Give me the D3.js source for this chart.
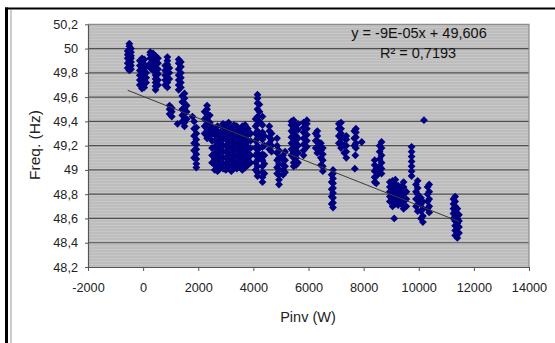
<!DOCTYPE html>
<html>
<head>
<meta charset="utf-8">
<script src="https://cdn.jsdelivr.net/npm/d3@7"></script>
<style>
  html, body { margin: 0; padding: 0; background: #ffffff; }
  svg { display: block; font-family: "Liberation Sans", Arial, sans-serif; }
</style>
</head>
<body>
<svg id="chart" width="555" height="343"></svg>
<script>
// Inverter power (W) for each measurement column; freqHz[i] holds the grid
// frequencies (Hz) logged at pinvW[i].
const pinvW = [
  -560, -500, -440, -120, -40, 40, 110, 260, 360, 450, 540,
  800, 880, 950, 960, 1040, 1250, 1290, 1370, 1420, 1500, 1580,
  1790, 1850, 1930, 2230, 2320, 2420,
  2500, 2600, 2700, 2800, 2900, 3000, 3100, 3200, 3300, 3400, 3500, 3600, 3700, 3800, 3900,
  4080, 4150, 4220, 4330, 4400, 4580, 4660, 4860, 4930, 5080, 5150,
  5380, 5460, 5550, 5620, 5820, 5940, 6260, 6320, 6450, 6520, 6840, 6890,
  7100, 7180, 7300, 7370, 7660, 7720, 7700, 7680, 7930,
  8400, 8460, 8580, 8650,
  8950, 9050, 9150, 9250, 9350, 9450, 9550, 9110,
  9740, 9900, 9960, 10080, 10150, 10320, 10380, 10190,
  11260, 11320, 11400, 11460
];
const freqHz = [
  [49.84, 49.88, 49.92, 49.95, 49.98],
  [49.82, 49.85, 49.87, 49.90, 49.93, 49.96, 49.99, 50.02, 50.04],
  [49.83, 49.86, 49.89, 49.92, 49.94, 49.97, 50.00],
  [49.70, 49.74, 49.78, 49.82, 49.86, 49.90],
  [49.67, 49.69, 49.72, 49.75, 49.78, 49.80, 49.83, 49.86, 49.89, 49.92],
  [49.68, 49.71, 49.74, 49.77, 49.81, 49.84, 49.87, 49.91],
  [49.72, 49.76, 49.80, 49.85],
  [49.84, 49.88, 49.92, 49.95, 49.97],
  [49.82, 49.85, 49.89, 49.93, 49.96],
  [49.66, 49.69, 49.72, 49.75, 49.78, 49.81, 49.84, 49.87, 49.90, 49.94],
  [49.70, 49.74, 49.79, 49.83, 49.88, 49.92],
  [49.70, 49.74, 49.78, 49.82, 49.86],
  [49.68, 49.72, 49.76, 49.80, 49.83, 49.87, 49.90, 49.93],
  [49.75, 49.80, 49.84],
  [49.46, 49.50, 49.53],
  [49.44, 49.48, 49.51],
  [49.38],
  [49.66, 49.70, 49.74, 49.78, 49.83, 49.88, 49.91],
  [49.68, 49.72, 49.76, 49.80, 49.85, 49.89],
  [49.40, 49.45, 49.50, 49.56, 49.61],
  [49.36, 49.39, 49.43, 49.47, 49.51, 49.55, 49.59, 49.63],
  [49.42, 49.48, 49.53],
  [49.44],
  [49.10, 49.16, 49.22, 49.28, 49.34, 49.40],
  [49.02, 49.05, 49.09, 49.13, 49.17, 49.21, 49.25, 49.30, 49.35],
  [49.30, 49.36, 49.42, 49.48],
  [49.26, 49.30, 49.34, 49.38, 49.42, 49.46, 49.50, 49.53],
  [49.28, 49.33, 49.39, 49.45],
  [49.06, 49.12, 49.18, 49.24, 49.30, 49.35],
  [49.00, 49.04, 49.09, 49.14, 49.19, 49.24, 49.29, 49.33],
  [48.99, 49.03, 49.08, 49.13, 49.18, 49.23, 49.28, 49.32, 49.36],
  [49.02, 49.06, 49.11, 49.16, 49.21, 49.26, 49.31],
  [49.01, 49.05, 49.10, 49.15, 49.20, 49.25, 49.30, 49.35, 49.38],
  [49.00, 49.05, 49.10, 49.15, 49.20, 49.26, 49.32, 49.37],
  [49.03, 49.08, 49.13, 49.18, 49.23, 49.28, 49.33, 49.39],
  [48.99, 49.04, 49.09, 49.14, 49.19, 49.24, 49.29, 49.35],
  [49.02, 49.07, 49.12, 49.17, 49.22, 49.27, 49.32, 49.37],
  [49.01, 49.06, 49.11, 49.16, 49.21, 49.26, 49.31, 49.36],
  [49.03, 49.08, 49.13, 49.18, 49.23, 49.28, 49.33],
  [49.00, 49.05, 49.10, 49.15, 49.20, 49.25, 49.30, 49.36],
  [49.02, 49.07, 49.12, 49.17, 49.22, 49.27, 49.33, 49.37],
  [49.04, 49.09, 49.14, 49.19, 49.24, 49.29, 49.34],
  [49.06, 49.12, 49.18, 49.24, 49.30],
  [49.00, 49.06, 49.12, 49.18, 49.24, 49.30, 49.36, 49.42],
  [48.95, 48.98, 49.03, 49.08, 49.14, 49.20, 49.26, 49.32, 49.38, 49.44, 49.50, 49.55, 49.59, 49.62],
  [49.10, 49.18, 49.28, 49.40, 49.48, 49.54],
  [48.90, 48.94, 48.98, 49.03, 49.08, 49.13, 49.19, 49.25, 49.31, 49.37, 49.44],
  [48.97, 49.05, 49.12, 49.20, 49.28],
  [49.17, 49.22, 49.27, 49.32, 49.36],
  [49.15, 49.20, 49.25, 49.30],
  [48.97, 49.02, 49.08, 49.14, 49.20, 49.26],
  [48.88, 48.92, 48.96, 49.00, 49.05, 49.10, 49.16],
  [48.96, 49.00, 49.04, 49.08, 49.12],
  [48.98, 49.03, 49.08, 49.15],
  [49.12, 49.17, 49.22, 49.27, 49.32, 49.37, 49.40],
  [49.03, 49.06, 49.10, 49.14, 49.18, 49.22, 49.26, 49.30, 49.34, 49.38, 49.41],
  [49.04, 49.10, 49.16, 49.22, 49.28, 49.34],
  [49.06, 49.14, 49.20, 49.26, 49.33, 49.38],
  [49.12, 49.16, 49.21, 49.26, 49.31, 49.35, 49.39],
  [49.19, 49.24, 49.29, 49.34, 49.38, 49.41],
  [49.18, 49.24, 49.30],
  [49.14, 49.19, 49.24, 49.28, 49.32],
  [49.04, 49.10, 49.16, 49.22],
  [48.99, 49.03, 49.08, 49.13, 49.18],
  [48.72, 48.78, 48.84, 48.90, 48.96],
  [48.69, 48.73, 48.77, 48.81, 48.85, 48.89, 48.93, 48.97, 49.00],
  [49.22, 49.28, 49.34, 49.38],
  [49.18, 49.22, 49.26, 49.30, 49.34, 49.39],
  [49.14, 49.20, 49.26],
  [49.10, 49.15, 49.20, 49.25, 49.28],
  [49.20, 49.26, 49.32],
  [49.18, 49.22, 49.27, 49.31, 49.34],
  [49.12],
  [49.01],
  [49.23],
  [48.90, 48.94, 48.99, 49.04, 49.08],
  [48.89, 48.95, 49.01],
  [48.98, 49.03, 49.09, 49.15, 49.20],
  [48.97, 49.01, 49.06, 49.12, 49.18, 49.23],
  [48.74, 48.78, 48.82, 48.86, 48.90],
  [48.70, 48.74, 48.78, 48.82, 48.86, 48.91],
  [48.72, 48.76, 48.80, 48.84, 48.88, 48.92],
  [48.71, 48.75, 48.79, 48.83, 48.87],
  [48.72, 48.77, 48.82, 48.86],
  [48.68, 48.74, 48.80, 48.86, 48.90],
  [48.70, 48.76, 48.82],
  [48.60],
  [48.95, 48.99, 49.03, 49.07, 49.11, 49.15, 49.19],
  [48.70, 48.76, 48.82, 48.88],
  [48.66, 48.71, 48.75, 48.80, 48.85, 48.91],
  [48.60, 48.66, 48.72, 48.77],
  [48.57, 48.62, 48.68, 48.74],
  [48.68, 48.74, 48.80, 48.86],
  [48.65, 48.70, 48.76, 48.82, 48.88],
  [49.41],
  [48.60, 48.64, 48.68, 48.72, 48.76],
  [48.46, 48.50, 48.54, 48.58, 48.62, 48.66, 48.70, 48.74, 48.78],
  [48.44, 48.48, 48.52, 48.56, 48.60, 48.64, 48.68],
  [48.48, 48.53, 48.58, 48.63]
];

// Axis ticks
const xTickValues = [-2000, 0, 2000, 4000, 6000, 8000, 10000, 12000, 14000];
const yTickValues = [48.2, 48.4, 48.6, 48.8, 49, 49.2, 49.4, 49.6, 49.8, 50, 50.2];

// Linear trend y = a·x + b
const trendSlope = -9e-5;
const trendIntercept = 49.606;
const trendLabel = "y = -9E-05x + 49,606";
const r2Label = "R\u00B2 = 0,7193";

const xTitle = "Pinv (W)";
const yTitle = "Freq. (Hz)";

const points = pinvW.flatMap((p, i) => freqHz[i].map(f => ({ p, f })));

const svg = d3.select("#chart");

// Outer frame
svg.append("rect").attr("x", 0).attr("y", 0).attr("width", 555).attr("height", 343).attr("fill", "#ffffff");
svg.append("line").attr("x1", 5).attr("x2", 555).attr("y1", 8.5).attr("y2", 8.5)
  .attr("stroke", "#000").attr("stroke-width", 2.2);
svg.append("line").attr("x1", 6.5).attr("x2", 6.5).attr("y1", 7.5).attr("y2", 343)
  .attr("stroke", "#000").attr("stroke-width", 3);
svg.append("line").attr("x1", 11).attr("x2", 11).attr("y1", 10).attr("y2", 343)
  .attr("stroke", "#9a9a9a").attr("stroke-width", 1);

const plot = { left: 88, right: 529, top: 24.3, bottom: 267 };

const x = d3.scaleLinear().domain([-2000, 14000]).range([plot.left, plot.right]);
const y = d3.scaleLinear().domain([48.2, 50.2]).range([plot.bottom, plot.top]);

const locale = d3.formatLocale({ decimal: ",", thousands: ".", grouping: [3], currency: ["", ""], minus: "-" });
const fmtX = locale.format("d");
const fmtY = locale.format(".1~f");

// Plot background with fine horizontal texture
const defs = svg.append("defs");
const pat = defs.append("pattern").attr("id", "stripes").attr("patternUnits", "userSpaceOnUse")
  .attr("width", 8).attr("height", 3);
pat.append("rect").attr("width", 8).attr("height", 3).attr("fill", "#bdbdbd");
pat.append("rect").attr("y", 0).attr("width", 8).attr("height", 1).attr("fill", "#c7c7c7");

svg.append("rect")
  .attr("x", plot.left).attr("y", plot.top)
  .attr("width", plot.right - plot.left).attr("height", plot.bottom - plot.top)
  .attr("fill", "url(#stripes)");

// Horizontal gridlines
svg.append("g").selectAll("line")
  .data(yTickValues.filter(v => v > 48.2 && v < 50.2))
  .join("line")
  .attr("x1", plot.left).attr("x2", plot.right)
  .attr("y1", d => y(d)).attr("y2", d => y(d))
  .attr("stroke", "#505050").attr("stroke-width", 1.2);

// Plot border (top and right)
svg.append("path")
  .attr("d", `M${plot.left},${plot.top}H${plot.right}V${plot.bottom}`)
  .attr("fill", "none").attr("stroke", "#8c8c8c").attr("stroke-width", 1.2);

// Data markers
const diamond = "M0,-3.9L3.9,0L0,3.9L-3.9,0Z";
svg.append("g").selectAll("path")
  .data(points)
  .join("path")
  .attr("d", diamond)
  .attr("transform", d => `translate(${x(d.p)},${y(d.f)})`)
  .attr("fill", "#000080");

// Trend line across the data range
const [pMin, pMax] = d3.extent(pinvW);
const trend = [pMin, pMax].map(p => ({ p, f: trendSlope * p + trendIntercept }));
svg.append("path")
  .datum(trend)
  .attr("d", d3.line().x(d => x(d.p)).y(d => y(d.f)))
  .attr("fill", "none").attr("stroke", "#3a3a3a").attr("stroke-width", 1);

// Axes
const xAxis = svg.append("g")
  .attr("transform", `translate(0,${plot.bottom})`)
  .call(d3.axisBottom(x).tickValues(xTickValues).tickFormat(fmtX).tickSize(4).tickPadding(12).tickSizeOuter(0));
const yAxis = svg.append("g")
  .attr("transform", `translate(${plot.left},0)`)
  .call(d3.axisLeft(y).tickValues(yTickValues).tickFormat(fmtY).tickSize(3).tickPadding(7).tickSizeOuter(0));

[xAxis, yAxis].forEach(g => {
  g.select(".domain").attr("stroke", "#555").attr("stroke-width", 1.2);
  g.selectAll(".tick line").attr("stroke", "#555");
  g.selectAll(".tick text")
    .attr("fill", "#222")
    .style("font-family", '"Liberation Sans", Arial, sans-serif')
    .style("font-size", "12.7px");
});

// Axis titles
svg.append("text")
  .attr("x", 308).attr("y", 322)
  .attr("text-anchor", "middle")
  .attr("fill", "#222")
  .style("font-size", "14.5px")
  .text(xTitle);

svg.append("text")
  .attr("transform", "translate(40,145) rotate(-90)")
  .attr("text-anchor", "middle")
  .attr("fill", "#222")
  .style("font-size", "15.5px")
  .text(yTitle);

// Trend equation
svg.append("text")
  .attr("x", 419).attr("y", 38)
  .attr("text-anchor", "middle")
  .attr("fill", "#111")
  .style("font-size", "14.5px")
  .text(trendLabel);
svg.append("text")
  .attr("x", 418).attr("y", 58)
  .attr("text-anchor", "middle")
  .attr("fill", "#111")
  .style("font-size", "14.5px")
  .text(r2Label);
</script>
</body>
</html>
